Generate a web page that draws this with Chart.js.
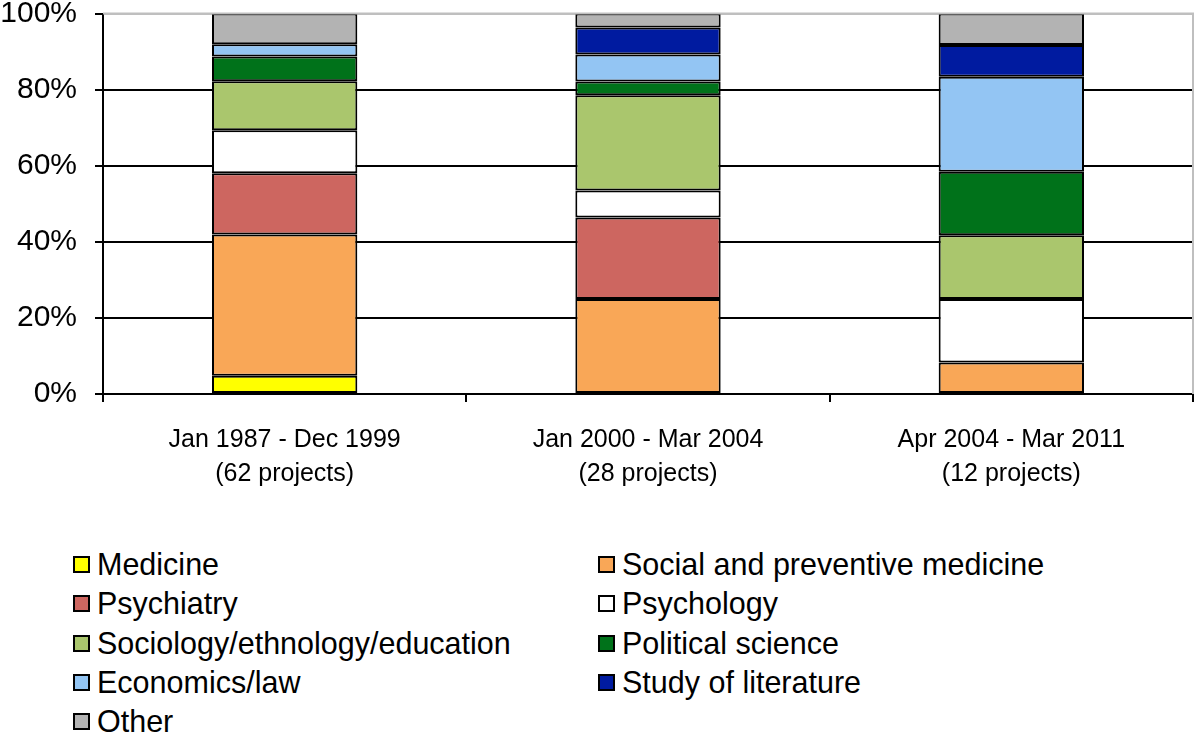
<!DOCTYPE html>
<html>
<head>
<meta charset="utf-8">
<script src="https://cdn.jsdelivr.net/npm/chart.js@4.4.1/dist/chart.umd.min.js"></script>
<style>
  body { margin: 0; background: #fff; }
  #wrap { position: relative; width: 1200px; height: 735px; overflow: hidden; }
  #chartBox { position: absolute; left: 0; top: -18px; width: 1200px; height: 518px; }
  #legend {
    position: absolute; left: 73px; top: 545px;
    display: grid; grid-template-columns: 525px auto; grid-auto-rows: 39.3px;
    font-family: "Liberation Sans", Arial, sans-serif; font-size: 30.5px; color: #000;
  }
  .item { display: flex; align-items: center; white-space: nowrap; }
  .box { width: 13px; height: 13px; border: 2px solid #000; margin-right: 7px; }
</style>
</head>
<body>
<div id="wrap">
  <div id="chartBox"><canvas id="chart"></canvas></div>
  <div id="legend"></div>
</div>
<script>
const periods = [
  ["Jan 1987 - Dec 1999", "(62 projects)"],
  ["Jan 2000 - Mar 2004", "(28 projects)"],
  ["Apr 2004 - Mar 2011", "(12 projects)"]
];
const fields = [
  "Medicine",
  "Social and preventive medicine",
  "Psychiatry",
  "Psychology",
  "Sociology/ethnology/education",
  "Political science",
  "Economics/law",
  "Study of literature",
  "Other"
];
const fieldColors = ["#ffff00", "#f9a757", "#cd6660", "#ffffff", "#aac66d", "#00721a", "#93c5f3", "#001ba0", "#b3b3b3"];

// percent of projects per period, bottom to top
const medicine = [4.8, 0, 0];
const socialMedicine = [37.1, 25, 8.3];
const psychiatry = [16.1, 21.4, 0];
const psychology = [11.3, 7.1, 16.7];
const sociology = [12.9, 25, 16.7];
const politicalScience = [6.5, 3.6, 16.7];
const economicsLaw = [3.2, 7.1, 25];
const literature = [0, 7.1, 8.3];
const other = [8.1, 3.7, 8.3];
const seriesValues = [medicine, socialMedicine, psychiatry, psychology, sociology, politicalScience, economicsLaw, literature, other];

const yTicks = [0, 20, 40, 60, 80, 100];

const FONT = "'Liberation Sans', Arial, sans-serif";

// gray frame on top and right of the plot
const framePlugin = {
  id: "frame",
  afterDraw(chart) {
    const a = chart.chartArea;
    const ctx = chart.ctx;
    ctx.save();
    ctx.strokeStyle = "#bfbfbf";
    ctx.lineWidth = 2;
    ctx.beginPath();
    ctx.moveTo(a.left, a.top);
    ctx.lineTo(a.right, a.top);
    ctx.lineTo(a.right, a.bottom);
    ctx.stroke();
    ctx.restore();
  }
};

new Chart(document.getElementById("chart"), {
  type: "bar",
  data: {
    labels: periods,
    datasets: fields.map((name, i) => ({
      label: name,
      data: seriesValues[i],
      backgroundColor: fieldColors[i],
      borderColor: "#000",
      borderWidth: ctx => (ctx.raw ? 2 : 0),
      borderSkipped: false,
      barPercentage: 0.4,
      categoryPercentage: 1
    }))
  },
  options: {
    responsive: true,
    maintainAspectRatio: false,
    animation: false,
    layout: { padding: { top: 0, right: 7, left: 0, bottom: 0 } },
    plugins: { legend: { display: false }, tooltip: { enabled: false } },
    scales: {
      x: {
        stacked: true,
        border: { color: "#000", width: 2 },
        grid: { offset: true, drawOnChartArea: false, color: "#000", lineWidth: 2, tickLength: 8 },
        ticks: {
          color: "#000",
          padding: 21,
          font: { family: FONT, size: 25, lineHeight: 1.36 }
        },
        afterFit(scale) { scale.height = 106; }
      },
      y: {
        stacked: true,
        min: 0,
        max: 100,
        afterBuildTicks(scale) { scale.ticks = yTicks.map(v => ({ value: v })); },
        border: { color: "#000", width: 2 },
        grid: {
          color: ctx => (ctx.tick && ctx.tick.value === 100 ? "#bfbfbf" : "#000"),
          tickColor: "#000",
          lineWidth: 2,
          tickLength: 8
        },
        ticks: {
          color: "#000",
          padding: 18,
          font: { family: FONT, size: 30, lineHeight: 0.9 },
          callback: v => v + "%"
        },
        afterFit(scale) { scale.width = 103; }
      }
    }
  },
  plugins: [framePlugin]
});

const legend = document.getElementById("legend");
fields.forEach((name, i) => {
  const item = document.createElement("div");
  item.className = "item";
  item.innerHTML = `<span class="box" style="background:${fieldColors[i]}"></span><span>${name}</span>`;
  legend.appendChild(item);
});
</script>
</body>
</html>
